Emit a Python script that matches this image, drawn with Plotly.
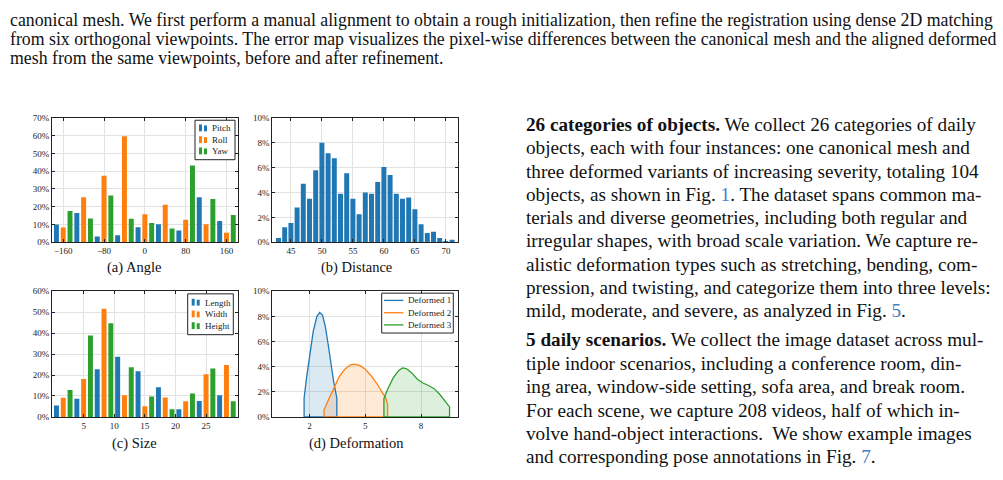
import plotly.graph_objects as go

# ---------------- data ----------------
angle_bins = [-160, -120, -80, -40, 0, 40, 80, 120, 160]
angle_pitch = [10.0, 16.5, 3.3, 3.9, 8.5, 10.1, 6.6, 25.4, 11.9]
angle_roll = [8.3, 25.4, 37.5, 59.7, 15.8, 21.1, 12.7, 10.1, 5.3]
angle_yaw = [17.6, 13.4, 26.3, 13.2, 10.8, 7.7, 43.2, 24.4, 15.4]

distance_bins = [43, 44, 45, 46, 47, 48, 49, 50, 51, 52, 53, 54, 55, 56, 57,
                 58, 59, 60, 61, 62, 63, 64, 65, 66, 67, 68, 69, 70, 71]
distance_pct = [0.35, 1.2, 1.55, 2.8, 4.7, 3.5, 5.8, 8.0, 7.15, 6.75, 3.9, 5.55,
                3.5, 2.25, 4.0, 3.9, 4.85, 6.05, 5.4, 3.9, 3.5, 3.6, 2.65, 1.45,
                0.75, 0.85, 0.35, 0.1, 0.2]

size_bins = [1.67, 5.0, 8.33, 11.67, 15.0, 18.33, 21.67, 25.0, 28.33]
size_length = [5.45, 8.7, 22.7, 28.7, 21.8, 14.2, 3.7, 7.6, 10.3]
size_width = [9.2, 18.1, 51.6, 10.4, 5.1, 9.3, 7.5, 20.4, 24.8]
size_height = [12.8, 38.9, 44.7, 23.7, 9.7, 3.7, 11.2, 23.1, 7.5]

def1_x = [1.71, 1.85, 2.0, 2.2, 2.4, 2.55, 2.7, 2.85, 3.0, 3.15, 3.3, 3.47]
def1_y = [1.5, 3.2, 4.9, 6.8, 8.0, 8.3, 8.1, 7.2, 5.8, 4.2, 2.8, 1.5]
def2_x = [2.78, 3.0, 3.3, 3.6, 3.9, 4.2, 4.4, 4.7, 5.0, 5.3, 5.6, 5.9, 6.1, 6.2]
def2_y = [0.55, 1.3, 2.3, 3.2, 3.8, 4.15, 4.2, 4.1, 3.8, 3.3, 2.7, 2.0, 1.5, 1.0]
def3_x = [6.0, 6.2, 6.5, 6.8, 7.0, 7.2, 7.5, 7.8, 8.1, 8.4, 8.7, 9.0, 9.3, 9.53]
def3_y = [1.45, 2.2, 3.1, 3.7, 3.9, 3.85, 3.5, 3.0, 2.7, 2.5, 2.25, 1.8, 1.2, 0.8]

angle_names = ["Pitch", "Roll", "Yaw"]
size_names = ["Length", "Width", "Height"]
deform_names = ["Deformed 1", "Deformed 2", "Deformed 3"]

top_lines = [
    "canonical mesh. We first perform a manual alignment to obtain a rough initialization, then refine the registration using dense 2D matching",
    "from six orthogonal viewpoints. The error map visualizes the pixel-wise differences between the canonical mesh and the aligned deformed",
    "mesh from the same viewpoints, before and after refinement.",
]
LINK = "rgb(70,125,200)"
right_lines = [
    "<b>26 categories of objects.</b> We collect 26 categories of daily",
    "objects, each with four instances: one canonical mesh and",
    "three deformed variants of increasing severity, totaling 104",
    f"objects, as shown in Fig. <span style='color:{LINK}'>1</span>. The dataset spans common ma-",
    "terials and diverse geometries, including both regular and",
    "irregular shapes, with broad scale variation. We capture re-",
    "alistic deformation types such as stretching, bending, com-",
    "pression, and twisting, and categorize them into three levels:",
    f"mild, moderate, and severe, as analyzed in Fig. <span style='color:{LINK}'>5</span>.",
    "<b>5 daily scenarios.</b> We collect the image dataset across mul-",
    "tiple indoor scenarios, including a conference room, din-",
    "ing area, window-side setting, sofa area, and break room.",
    "For each scene, we capture 208 videos, half of which in-",
    "volve hand-object interactions.  We show example images",
    f"and corresponding pose annotations in Fig. <span style='color:{LINK}'>7</span>.",
]
captions = ["(a) Angle", "(b) Distance", "(c) Size", "(d) Deformation"]

# ---------------- figure ----------------
W, H = 1003, 480
COLORS = ["#1f77b4", "#ff7f0e", "#2ca02c"]
FILLS = ["rgba(31,119,180,0.16)", "rgba(255,127,14,0.16)", "rgba(44,160,44,0.16)"]
SERIF = "Liberation Serif"

def px_x(a, b):
    return [a / W, b / W]

def px_y(top, bottom):
    return [1 - bottom / H, 1 - top / H]

fig = go.Figure()

for name, vals, c in zip(angle_names, [angle_pitch, angle_roll, angle_yaw], COLORS):
    fig.add_trace(go.Bar(x=angle_bins, y=vals, name=name, marker=dict(color=c, line=dict(width=0)),
                         xaxis="x", yaxis="y"))

fig.add_trace(go.Bar(x=distance_bins, y=distance_pct, width=0.8, name="Distance",
                     marker=dict(color=COLORS[0], line=dict(width=0)), xaxis="x2", yaxis="y2"))

for name, vals, c in zip(size_names, [size_length, size_width, size_height], COLORS):
    fig.add_trace(go.Bar(x=size_bins, y=vals, name=name, marker=dict(color=c, line=dict(width=0)),
                         xaxis="x3", yaxis="y3"))

curves = [(def1_x, def1_y), (def2_x, def2_y), (def3_x, def3_y)]
for (xs, ys), fc in zip(curves, FILLS):
    px = [xs[0]] + xs + [xs[-1], xs[0]]
    py = [0] + ys + [0, 0]
    fig.add_trace(go.Scatter(x=px, y=py, mode="lines", fill="toself", fillcolor=fc,
                             line=dict(width=0), hoverinfo="skip", xaxis="x4", yaxis="y4"))
for (xs, ys), name, c in zip(curves, deform_names, COLORS):
    px = [xs[0]] + xs + [xs[-1], xs[0]]
    py = [0] + ys + [0, 0]
    fig.add_trace(go.Scatter(x=px, y=py, mode="lines", name=name, line=dict(color=c, width=1.3),
                             xaxis="x4", yaxis="y4"))

def axis(domain, anchor, **kw):
    d = dict(domain=domain, anchor=anchor, showline=True, linecolor="#222", linewidth=1,
             mirror="ticks", ticks="inside", ticklen=3, tickcolor="#222", tickwidth=1,
             showgrid=True, gridcolor="#e2e2e2", gridwidth=1, zeroline=False,
             tickfont=dict(family=SERIF, size=9, color="#222"))
    d.update(kw)
    return d

XL, XR = px_x(52, 237.7), px_x(272.3, 458.3)
YT, YB = px_y(115.3, 242.3), px_y(292.3, 420.7)

fig.update_layout(
    width=W, height=H, margin=dict(l=0, r=0, t=0, b=0),
    paper_bgcolor="white", plot_bgcolor="white", showlegend=False,
    barmode="group", bargap=0.0, bargroupgap=0.27,
    font=dict(family=SERIF, color="#222"),
    xaxis=axis(XL, "y", range=[-182, 182], tickvals=[-160, -80, 0, 80, 160]),
    yaxis=axis(YT, "x", range=[0, 70], dtick=10, ticksuffix="%"),
    xaxis2=axis(XR, "y2", range=[42, 72], tickvals=[45, 50, 55, 60, 65, 70]),
    yaxis2=axis(YT, "x2", range=[0, 10], dtick=2, ticksuffix="%"),
    xaxis3=axis(XL, "y3", range=[-0.17, 30.17], tickvals=[5, 10, 15, 20, 25]),
    yaxis3=axis(YB, "x3", range=[0, 60], dtick=10, ticksuffix="%"),
    xaxis4=axis(XR, "y4", range=[0, 10], tickvals=[2, 5, 8]),
    yaxis4=axis(YB, "x4", range=[0, 10], dtick=2, ticksuffix="%"),
)

shapes, ann = [], []

def prect(x0, y0, x1, y1, fill, line_color=None, lw=0):
    shapes.append(dict(type="rect", xref="paper", yref="paper", x0=x0 / W, x1=x1 / W,
                       y0=1 - y1 / H, y1=1 - y0 / H, fillcolor=fill,
                       line=dict(color=line_color or fill, width=lw), layer="above"))

def ptext(t, x, y, size, anchor="left", color="#222"):
    ann.append(dict(text=t, x=x / W, y=1 - y / H, xanchor=anchor, yanchor="middle",
                    xref="paper", yref="paper", showarrow=False,
                    font=dict(family=SERIF, size=size, color=color)))

# legend boxes for the bar charts (pgfplots-style double-bar glyphs)
def bar_legend(box, rows, gx, tx, names):
    prect(*box, fill="white", line_color="#222", lw=1)
    for yc, name, c in zip(rows, names, COLORS):
        prect(gx, yc - 4, gx + 3, yc + 3, fill=c)
        prect(gx + 5, yc - 3, gx + 8, yc + 3, fill=c)
        ptext(name, tx, yc, 9)

bar_legend((195, 117.7, 235, 158), [126, 138, 149.5], 199, 209.5, angle_names)
bar_legend((187.7, 295, 233.3, 336.7), [304, 316, 328], 191.7, 202.7, size_names)

# line legend for deformation
prect(381.7, 294.3, 453.3, 335, fill="white", line_color="#222", lw=1)
for yc, name, c in zip([301.7, 314.3, 326.7], deform_names, COLORS):
    shapes.append(dict(type="line", xref="paper", yref="paper", x0=384 / W, x1=403.3 / W,
                       y0=1 - yc / H, y1=1 - yc / H, line=dict(color=c, width=1.3), layer="above"))
    ptext(name, 405.7, yc, 9)

for i, t in enumerate(top_lines):
    ptext(t, 8, 15 + 19.5 * i, 17.8, color="#111")
right_y = [122 + 23.8 * i for i in range(9)] + [342 + 23.9 * i for i in range(6)]
for t, yy in zip(right_lines, right_y):
    ptext(t, 524, yy, 19.2, color="#111")
cap_pos = [(134, 268), (356, 268), (134, 448), (356, 448)]
for t, (cx, cy) in zip(captions, cap_pos):
    ptext(t, cx, cy, 14.5, anchor="center", color="#111")

fig.update_layout(shapes=shapes, annotations=ann)
fig.write_html("out.html")
